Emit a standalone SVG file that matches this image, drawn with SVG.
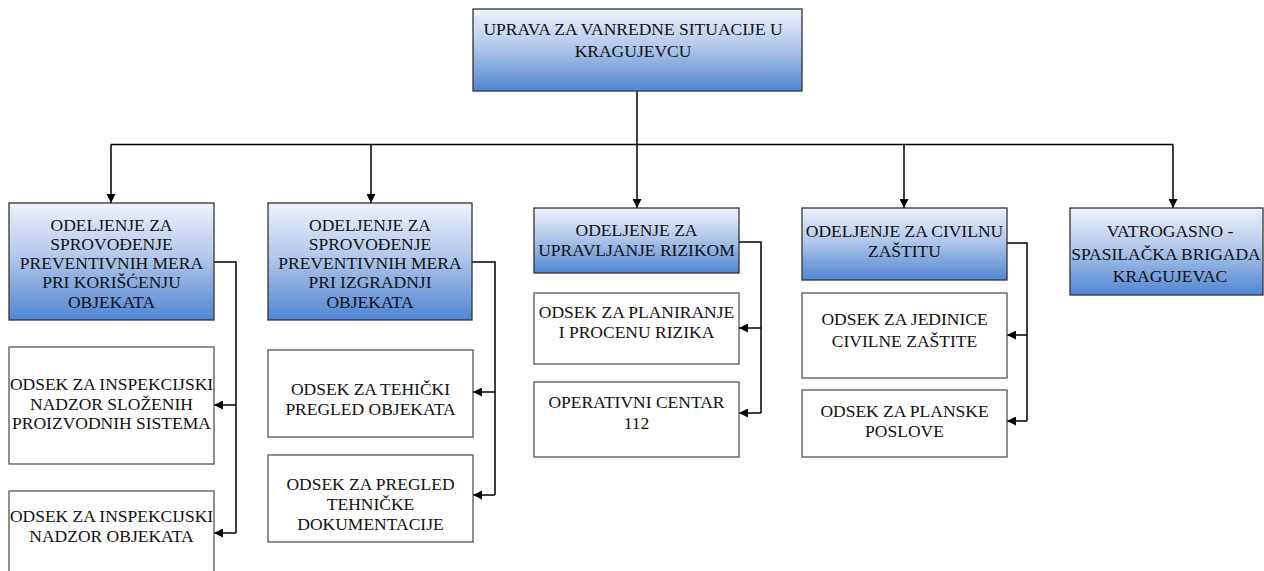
<svg xmlns="http://www.w3.org/2000/svg" width="1264" height="571" viewBox="0 0 1264 571">
<defs>
<linearGradient id="g" x1="0" y1="0" x2="0" y2="1">
<stop offset="0" stop-color="#eef2fa"/>
<stop offset="0.45" stop-color="#b4c8ea"/>
<stop offset="1" stop-color="#4f86d4"/>
</linearGradient>
<marker id="a" viewBox="0 0 10 10" refX="10" refY="5" markerWidth="9" markerHeight="9" markerUnits="userSpaceOnUse" orient="auto">
<path d="M0,0 L10,5 L0,10 Z" fill="#000"/>
</marker>
<style>
.d{fill:url(#g);stroke:#333;stroke-width:1.3}
.s{fill:#fff;stroke:#555;stroke-width:1.3}
text{font-family:"Liberation Serif","Times New Roman",serif;font-size:17.5px;fill:#111;text-anchor:middle}
.c{fill:none;stroke:#000;stroke-width:1.5}
</style>
</defs>
<rect width="1264" height="571" fill="#fff"/>
<g id="connectors">
<path class="c" d="M637,91 V144.5"/>
<path class="c" d="M111,144.5 H1173"/>
<path class="c" d="M111,144.5 V203" marker-end="url(#a)"/>
<path class="c" d="M371,144.5 V203" marker-end="url(#a)"/>
<path class="c" d="M637,144.5 V208" marker-end="url(#a)"/>
<path class="c" d="M904,144.5 V208" marker-end="url(#a)"/>
<path class="c" d="M1173,144.5 V208" marker-end="url(#a)"/>
<path class="c" d="M214,262 H236 V533"/>
<path class="c" d="M236,405 H214" marker-end="url(#a)"/>
<path class="c" d="M236,533 H214" marker-end="url(#a)"/>
<path class="c" d="M472,262 H495 V495"/>
<path class="c" d="M495,392 H473" marker-end="url(#a)"/>
<path class="c" d="M495,495 H473" marker-end="url(#a)"/>
<path class="c" d="M739,242 H761 V413"/>
<path class="c" d="M761,328 H739" marker-end="url(#a)"/>
<path class="c" d="M761,413 H739" marker-end="url(#a)"/>
<path class="c" d="M1007,243 H1027 V421"/>
<path class="c" d="M1027,335 H1007" marker-end="url(#a)"/>
<path class="c" d="M1027,421 H1007" marker-end="url(#a)"/>
</g>
<g id="uprava">
<rect class="d" x="473" y="9" width="329" height="82"/>
<text x="633" y="35">UPRAVA ZA VANREDNE SITUACIJE U</text>
<text x="633" y="57">KRAGUJEVCU</text>
</g>
<g id="odeljenje-koriscenje">
<rect class="d" x="9" y="203" width="205" height="117"/>
<text x="111.5" y="231">ODELJENJE ZA</text>
<text x="111.5" y="250">SPROVOĐENJE</text>
<text x="111.5" y="269">PREVENTIVNIH MERA</text>
<text x="111.5" y="288">PRI KORIŠĆENJU</text>
<text x="111.5" y="308">OBJEKATA</text>
</g>
<g id="odeljenje-izgradnja">
<rect class="d" x="268" y="203" width="204" height="117"/>
<text x="370" y="231">ODELJENJE ZA</text>
<text x="370" y="250">SPROVOĐENJE</text>
<text x="370" y="269">PREVENTIVNIH MERA</text>
<text x="370" y="288">PRI IZGRADNJI</text>
<text x="370" y="308">OBJEKATA</text>
</g>
<g id="odeljenje-rizik">
<rect class="d" x="534" y="208" width="205" height="65"/>
<text x="636.5" y="236">ODELJENJE ZA</text>
<text x="636.5" y="256">UPRAVLJANJE RIZIKOM</text>
</g>
<g id="odeljenje-civilna">
<rect class="d" x="802" y="208" width="205" height="72"/>
<text x="904.5" y="237">ODELJENJE ZA CIVILNU</text>
<text x="904.5" y="257">ZAŠTITU</text>
</g>
<g id="vatrogasna">
<rect class="d" x="1070" y="208" width="193" height="87"/>
<text x="1170" y="237">VATROGASNO -</text>
<text x="1166" y="260">SPASILAČKA BRIGADA</text>
<text x="1170" y="282">KRAGUJEVAC</text>
</g>
<g id="odsek-slozeni">
<rect class="s" x="9" y="347" width="205" height="117"/>
<text x="111.5" y="390">ODSEK ZA INSPEKCIJSKI</text>
<text x="111.5" y="410">NADZOR SLOŽENIH</text>
<text x="111.5" y="429">PROIZVODNIH SISTEMA</text>
</g>
<g id="odsek-objekti">
<rect class="s" x="9" y="491" width="205" height="95"/>
<text x="111.5" y="522">ODSEK ZA INSPEKCIJSKI</text>
<text x="111.5" y="542">NADZOR OBJEKATA</text>
</g>
<g id="odsek-tehnicki">
<rect class="s" x="268" y="350" width="205" height="87"/>
<text x="370.5" y="395">ODSEK ZA TEHIČKI</text>
<text x="370.5" y="415">PREGLED OBJEKATA</text>
</g>
<g id="odsek-dokumentacija">
<rect class="s" x="268" y="455" width="205" height="87"/>
<text x="370.5" y="490">ODSEK ZA PREGLED</text>
<text x="370.5" y="510">TEHNIČKE</text>
<text x="370.5" y="530">DOKUMENTACIJE</text>
</g>
<g id="odsek-planiranje">
<rect class="s" x="534" y="293" width="205" height="71"/>
<text x="636.5" y="318">ODSEK ZA PLANIRANJE</text>
<text x="636.5" y="338">I PROCENU RIZIKA</text>
</g>
<g id="operativni-centar">
<rect class="s" x="534" y="382" width="205" height="75"/>
<text x="636.5" y="408">OPERATIVNI CENTAR</text>
<text x="636.5" y="429">112</text>
</g>
<g id="odsek-jedinice">
<rect class="s" x="802" y="293" width="205" height="85"/>
<text x="904.5" y="325">ODSEK ZA JEDINICE</text>
<text x="904.5" y="347">CIVILNE ZAŠTITE</text>
</g>
<g id="odsek-planski">
<rect class="s" x="802" y="390" width="205" height="67"/>
<text x="904.5" y="417">ODSEK ZA PLANSKE</text>
<text x="904.5" y="437">POSLOVE</text>
</g>
</svg>
